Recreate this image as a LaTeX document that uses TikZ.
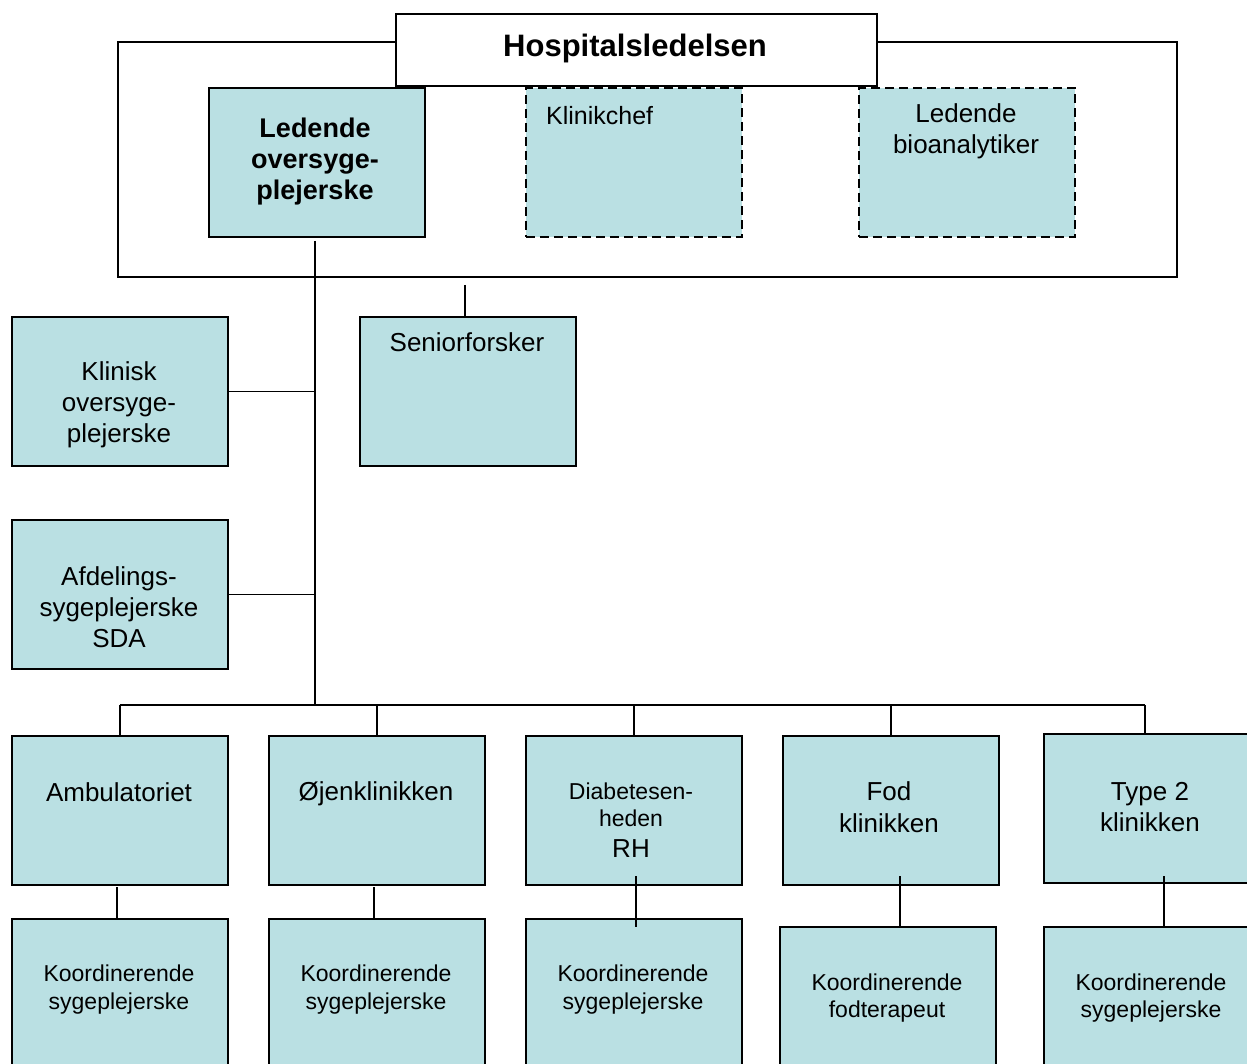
\documentclass[tikz,border=0pt]{standalone}
\usepackage{fontspec}
\setmainfont{Liberation Sans}
\definecolor{boxfill}{RGB}{186,224,227}
\begin{document}
\begin{tikzpicture}[x=1pt,y=-1pt,
  line/.style={draw=black,line width=1.9pt},
  box/.style={line,fill=boxfill,inner sep=0pt,minimum width=216pt,minimum height=149pt,anchor=north west},
  dbox/.style={box,dash pattern=on 9pt off 5pt},
  txt/.style={align=center,inner sep=0pt,font=\fontsize{26}{31}\selectfont},
  stxt/.style={align=center,inner sep=0pt,font=\fontsize{23}{28}\selectfont}]
\clip (0,0) rectangle (1247,1064);
% frame and top
\node[line,inner sep=0pt,minimum width=1059pt,minimum height=235pt,anchor=north west] (frame) at (117,41) {};
\node[line,fill=white,inner sep=0pt,minimum width=481pt,minimum height=72pt,anchor=north west] (hosp) at (395,13) {};
\node[txt,font=\fontsize{31}{36}\selectfont\bfseries] (thosp) at (635,48) {Hospitalsledelsen};
\node[box] (led) at (208,87) {};
\node[dbox] (kc) at (525,87) {};
\node[dbox] (bio) at (858,87) {};
\node[txt,font=\fontsize{27}{31}\selectfont\bfseries] (tled) at (315,162) {Ledende\\oversyge-\\plejerske};
\node[txt,font=\fontsize{25}{30}\selectfont,anchor=west] (tkc) at (546,116) {Klinikchef};
\node[txt] (tbio) at (966,131) {Ledende\\bioanalytiker};
% second level
\node[box] (klin) at (11,316) {};
\node[box] (sen) at (359,316) {};
\node[box] (afd) at (11,519) {};
\node[txt] (tklin) at (119,405) {Klinisk\\oversyge-\\plejerske};
\node[txt] (tsen) at (467,342) {Seniorforsker};
\node[txt] (tafd) at (119,607) {Afdelings-\\sygeplejerske\\SDA};
% row 1
\node[box] (amb) at (11,735) {};
\node[box] (oej) at (268,735) {};
\node[box] (dia) at (525,735) {};
\node[box] (fod) at (782,735) {};
\node[box] (t2) at (1043,733) {};
\node[txt] (tamb) at (119,792) {Ambulatoriet};
\node[txt] (toej) at (376,794) {Øjenklinikken};
\node[stxt] (tdia) at (631,820) {Diabetesen-\\[-1pt]heden\\[3pt]\fontsize{26}{31}\selectfont RH};
\node[txt,font=\fontsize{26}{32}\selectfont] (tfod) at (889,807) {Fod\\klinikken};
\node[txt] (tt2) at (1150,807) {Type 2\\klinikken};
% row 2
\node[box] (ambk) at (11,918) {};
\node[box] (oejk) at (268,918) {};
\node[box] (diak) at (525,918) {};
\node[box] (fodk) at (779,926) {};
\node[box] (t2k) at (1043,926) {};
\node[stxt] (tambk) at (119,990) {Koordinerende\\sygeplejerske};
\node[stxt] (toejk) at (376,990) {Koordinerende\\sygeplejerske};
\node[stxt] (tdiak) at (633,990) {Koordinerende\\sygeplejerske};
\node[stxt,font=\fontsize{23}{27}\selectfont] (tfodk) at (887,998) {Koordinerende\\fodterapeut};
\node[stxt,font=\fontsize{23}{27}\selectfont] (tt2k) at (1151,998) {Koordinerende\\sygeplejerske};
% connectors
\coordinate (trunktop) at (315,241);
\coordinate (bus) at (315,705);
\coordinate (t2bus) at (1145,705);
\coordinate (sentop) at (465,285);
\draw[line] (trunktop) -- (bus);
\draw[line] (sentop) -- (sentop |- sen.north);
\draw[line] (klin.east) -- (klin.east -| bus);
\draw[line] (afd.east) -- (afd.east -| bus);
\draw[line] (amb.north |- bus) -- (t2bus);
\draw[line] (amb.north) -- (amb.north |- bus);
\draw[line] (oej.north) -- (oej.north |- bus);
\draw[line] (dia.north) -- (dia.north |- bus);
\draw[line] (fod.north) -- (fod.north |- bus);
\draw[line] (t2bus) -- (t2bus |- t2.north);
\coordinate (ambc) at (117,887);
\coordinate (oejc) at (374,887);
\coordinate (diac) at (636,876);
\coordinate (diad) at (636,927);
\coordinate (fodc) at (900,876);
\coordinate (t2c) at (1164,876);
\draw[line] (ambc) -- (ambc |- ambk.north);
\draw[line] (oejc) -- (oejc |- oejk.north);
\draw[line] (diac) -- (diad);
\draw[line] (fodc) -- (fodc |- fodk.north);
\draw[line] (t2c) -- (t2c |- t2k.north);
\end{tikzpicture}
\end{document}
